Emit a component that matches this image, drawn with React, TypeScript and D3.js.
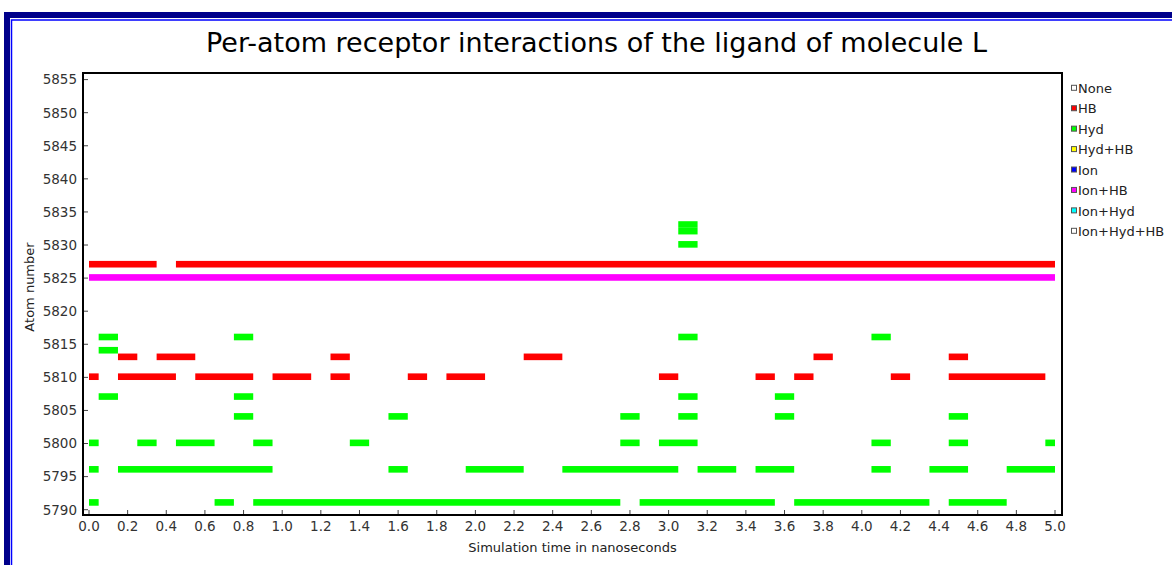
import * as d3 from "d3";
import React, { useEffect, useRef } from "react";

const legendLabels = ["None", "HB", "Hyd", "Hyd+HB", "Ion", "Ion+HB", "Ion+Hyd", "Ion+Hyd+HB"];
const legendColors = ["#ffffff", "#ff0000", "#00ff00", "#ffff00", "#0000ff", "#ff00ff", "#00ffff", "#ffffff"];

// [atom, first frame (ns), last frame (ns)] - frames are every 0.1 ns
const hydRuns: [number, number, number][] = [
    [5791, 0, 0], [5791, 0.7, 0.7], [5791, 0.9, 2.7], [5791, 2.9, 3.5], [5791, 3.7, 4.3], [5791, 4.5, 4.7],
    [5796, 0, 0], [5796, 0.2, 0.9], [5796, 1.6, 1.6], [5796, 2.0, 2.2], [5796, 2.5, 3.0], [5796, 3.2, 3.3],
    [5796, 3.5, 3.6], [5796, 4.1, 4.1], [5796, 4.4, 4.5], [5796, 4.8, 5.0],
    [5800, 0, 0], [5800, 0.3, 0.3], [5800, 0.5, 0.6], [5800, 0.9, 0.9], [5800, 1.4, 1.4], [5800, 2.8, 2.8],
    [5800, 3.0, 3.1], [5800, 4.1, 4.1], [5800, 4.5, 4.5], [5800, 5.0, 5.0],
    [5804, 0.8, 0.8], [5804, 1.6, 1.6], [5804, 2.8, 2.8], [5804, 3.1, 3.1], [5804, 3.6, 3.6], [5804, 4.5, 4.5],
    [5807, 0.1, 0.1], [5807, 0.8, 0.8], [5807, 3.1, 3.1], [5807, 3.6, 3.6],
    [5814, 0.1, 0.1],
    [5816, 0.1, 0.1], [5816, 0.8, 0.8], [5816, 3.1, 3.1], [5816, 4.1, 4.1],
    [5830, 3.1, 3.1], [5832, 3.1, 3.1], [5833, 3.1, 3.1],
];

const hbRuns: [number, number, number][] = [
    [5810, 0, 0], [5810, 0.2, 0.4], [5810, 0.6, 0.8], [5810, 1.0, 1.1], [5810, 1.3, 1.3], [5810, 1.7, 1.7],
    [5810, 1.9, 2.0], [5810, 3.0, 3.0], [5810, 3.5, 3.5], [5810, 3.7, 3.7], [5810, 4.2, 4.2], [5810, 4.5, 4.9],
    [5813, 0.2, 0.2], [5813, 0.4, 0.5], [5813, 1.3, 1.3], [5813, 2.3, 2.4], [5813, 3.8, 3.8], [5813, 4.5, 4.5],
    [5827, 0, 0.3], [5827, 0.5, 5.0],
];

const ionHbRuns: [number, number, number][] = [
    [5825, 0, 5.0],
];

const yTicks = d3.range(5790, 5856, 5);
const xTicks = d3.range(0, 51, 2).map(d => d / 10);

const FONT = "'DejaVu Sans', Verdana, sans-serif";

const App = () => {
    const svgRef = useRef<SVGSVGElement>(null);

    useEffect(() => {
        const width = 1172;
        const height = 565;
        const plot = { left: 83, right: 1062, top: 73, bottom: 515 };
        const half = 0.05;

        const svg = d3.select(svgRef.current);
        svg.selectAll("*").remove();
        svg.attr("width", width).attr("height", height);

        // window frame
        svg.append("rect")
            .attr("x", 7).attr("y", 15).attr("width", 1300).attr("height", 700)
            .attr("fill", "none").attr("stroke", "#00008b").attr("stroke-width", 6);
        svg.append("rect")
            .attr("x", 11.5).attr("y", 20).attr("width", 1300).attr("height", 700)
            .attr("fill", "none").attr("stroke", "#0000ff").attr("stroke-width", 1.5);

        const xScale = d3.scaleLinear().domain([0, 5]).range([89, 1055]);
        const yScale = d3.scaleLinear().domain([5790, 5855]).range([509.7, 79.6]);

        // title
        svg.append("text")
            .attr("x", 596.5).attr("y", 52)
            .attr("text-anchor", "middle")
            .style("font-family", FONT).style("font-size", "27px")
            .attr("fill", "#000")
            .text("Per-atom receptor interactions of the ligand of molecule L");

        // bars
        const drawRuns = (runs: [number, number, number][], color: string) => {
            svg.append("g").selectAll("rect")
                .data(runs)
                .enter()
                .append("rect")
                .attr("x", d => xScale(Math.max(0, d[1] - half)))
                .attr("width", d => xScale(Math.min(5, d[2] + half)) - xScale(Math.max(0, d[1] - half)))
                .attr("y", d => yScale(d[0] + 0.6))
                .attr("height", d => yScale(d[0] - 0.4) - yScale(d[0] + 0.6))
                .attr("fill", color);
        };
        drawRuns(hydRuns, legendColors[2]);
        drawRuns(hbRuns, legendColors[1]);
        drawRuns(ionHbRuns, legendColors[5]);

        // y ticks
        const yAxis = svg.append("g");
        yAxis.selectAll("line")
            .data(yTicks).enter().append("line")
            .attr("x1", plot.left).attr("x2", plot.left + 5)
            .attr("y1", d => yScale(d)).attr("y2", d => yScale(d))
            .attr("stroke", "#444").attr("stroke-width", 1);
        yAxis.selectAll("text")
            .data(yTicks).enter().append("text")
            .attr("x", plot.left - 6).attr("y", d => yScale(d))
            .attr("dy", "0.36em")
            .attr("text-anchor", "end")
            .style("font-family", FONT).style("font-size", "13.5px")
            .attr("fill", "#333")
            .text(d => d);

        // x ticks
        const xAxis = svg.append("g");
        xAxis.selectAll("line")
            .data(xTicks).enter().append("line")
            .attr("x1", d => xScale(d)).attr("x2", d => xScale(d))
            .attr("y1", plot.bottom).attr("y2", plot.bottom - 5)
            .attr("stroke", "#444").attr("stroke-width", 1);
        xAxis.selectAll("text")
            .data(xTicks).enter().append("text")
            .attr("x", d => xScale(d)).attr("y", 531)
            .attr("text-anchor", "middle")
            .style("font-family", FONT).style("font-size", "13.5px")
            .attr("fill", "#333")
            .text(d => d3.format(".1f")(d));

        // plot border
        svg.append("rect")
            .attr("x", plot.left).attr("y", plot.top)
            .attr("width", plot.right - plot.left).attr("height", plot.bottom - plot.top)
            .attr("fill", "none").attr("stroke", "#000").attr("stroke-width", 2);

        // axis titles
        svg.append("text")
            .attr("x", (plot.left + plot.right) / 2).attr("y", 552)
            .attr("text-anchor", "middle")
            .style("font-family", FONT).style("font-size", "13px")
            .attr("fill", "#222")
            .text("Simulation time in nanoseconds");
        svg.append("text")
            .attr("transform", "translate(34,287) rotate(-90)")
            .attr("text-anchor", "middle")
            .style("font-family", FONT).style("font-size", "13px")
            .attr("fill", "#222")
            .text("Atom number");

        // legend
        const legend = svg.append("g").selectAll("g")
            .data(legendLabels).enter().append("g")
            .attr("transform", (d, i) => `translate(1071,${88.3 + i * 20.43})`);
        legend.append("rect")
            .attr("x", 0.5).attr("y", -3)
            .attr("width", 5).attr("height", 5)
            .attr("fill", (d, i) => legendColors[i])
            .attr("stroke", "#555").attr("stroke-width", 1);
        legend.append("text")
            .attr("x", 7).attr("dy", "0.36em")
            .style("font-family", FONT).style("font-size", "13px")
            .attr("fill", "#222")
            .text(d => d);
    }, []);

    return (
        <div style={{ position: "absolute", left: 0, top: 0, width: 1172, height: 565, overflow: "hidden", background: "#fff" }}>
            <svg ref={svgRef} style={{ display: "block" }} />
        </div>
    );
};

export default App;
